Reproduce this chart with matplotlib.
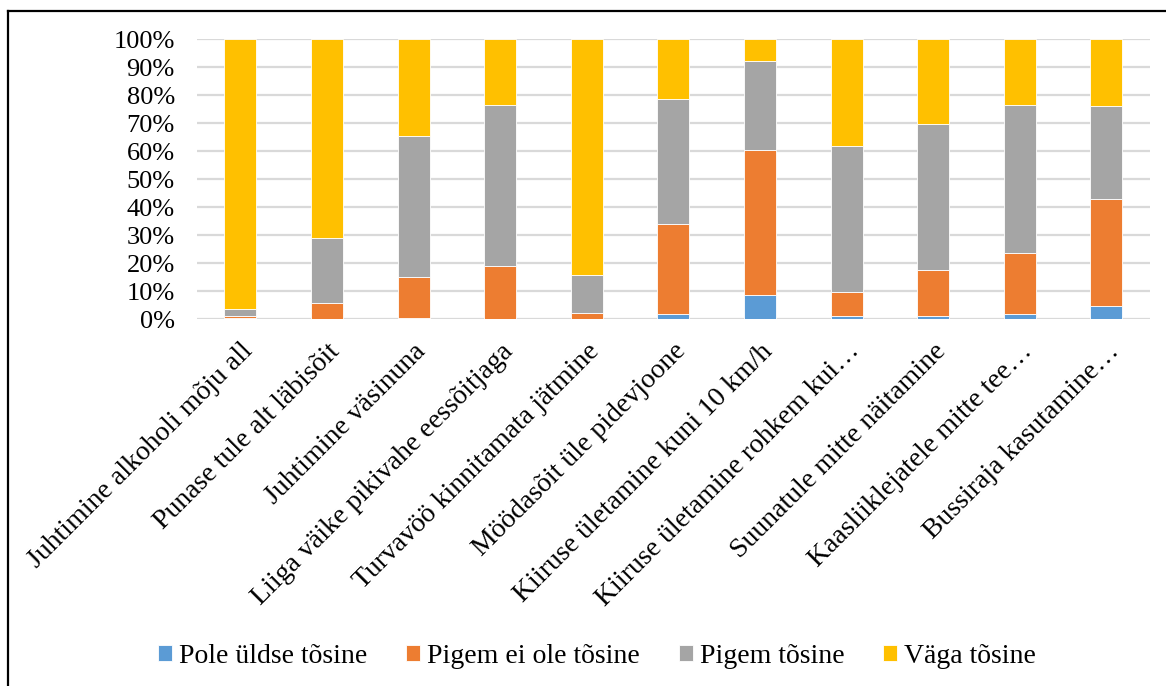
import matplotlib
matplotlib.use("Agg")
import matplotlib.pyplot as plt
from matplotlib.lines import Line2D
import numpy as np

categories = [
    "Juhtimine alkoholi mõju all",
    "Punase tule alt läbisõit",
    "Juhtimine väsinuna",
    "Liiga väike pikivahe eessõitjaga",
    "Turvavöö kinnitamata jätmine",
    "Möödasõit üle pidevjoone",
    "Kiiruse ületamine kuni 10 km/h",
    "Kiiruse ületamine rohkem kui…",
    "Suunatule mitte näitamine",
    "Kaasliiklejatele mitte tee…",
    "Bussiraja kasutamine…",
]

pole_uldse = [0.3, 0.0, 0.5, 0.0, 0.0, 1.8, 8.6, 1.1, 1.1, 1.8, 4.7]
pigem_ei_ole = [0.8, 5.7, 14.8, 18.9, 2.4, 32.3, 51.9, 8.8, 16.5, 21.9, 38.2]
pigem = [2.7, 23.2, 50.2, 57.6, 13.6, 44.5, 31.9, 51.9, 52.1, 52.8, 33.3]
vaga = [96.2, 71.1, 34.5, 23.5, 84.0, 21.4, 7.6, 38.2, 30.3, 23.5, 23.8]

series_names = ["Pole üldse tõsine", "Pigem ei ole tõsine", "Pigem tõsine", "Väga tõsine"]
colors = ["#5B9BD5", "#ED7D31", "#A5A5A5", "#FFC000"]

plt.rcParams["font.family"] = ["Liberation Serif", "DejaVu Serif"]

fig = plt.figure(figsize=(11.66, 6.86), dpi=100)
ax = fig.add_axes([0.169, 0.5345, 0.817, 0.408])

x = np.arange(len(categories))
bottom = np.zeros(len(categories))
for name, vals, col in zip(series_names, [pole_uldse, pigem_ei_ole, pigem, vaga], colors):
    vals = np.array(vals)
    ax.bar(x, vals, width=0.37, bottom=bottom, color=col, label=name,
           edgecolor="white", linewidth=0.6, zorder=3)
    bottom += vals

ax.set_xlim(-0.5, len(categories) - 0.5)
ax.set_ylim(0, 100)
ax.set_yticks(np.arange(0, 101, 10))
ax.set_yticklabels([f"{v}%" for v in range(0, 101, 10)], fontsize=19)
ax.yaxis.grid(True, color="#D9D9D9", linewidth=1.6, zorder=0)
ax.set_axisbelow(True)
for s in ax.spines.values():
    s.set_visible(False)
ax.tick_params(axis="both", length=0)
ax.tick_params(axis="y", pad=16)

ax.set_xticks(x)
ax.set_xticklabels(categories, rotation=45, ha="right", va="top",
                   rotation_mode="anchor", fontsize=20)
ax.tick_params(axis="x", pad=14)

fig.legend(loc="center", bbox_to_anchor=(0.512, 0.043), ncol=4, frameon=False,
           fontsize=20, handlelength=0.5, handleheight=0.5, handletextpad=0.25,
           columnspacing=1.4)

# outer frame (left and top edges)
fig.add_artist(Line2D([7.5 / 1166, 7.5 / 1166], [0, 1 - 10.5 / 686],
                      transform=fig.transFigure, color="black", linewidth=1.6))
fig.add_artist(Line2D([7.5 / 1166, 1], [1 - 10.5 / 686, 1 - 10.5 / 686],
                      transform=fig.transFigure, color="black", linewidth=1.6))

fig.savefig("out.png", dpi=100)
